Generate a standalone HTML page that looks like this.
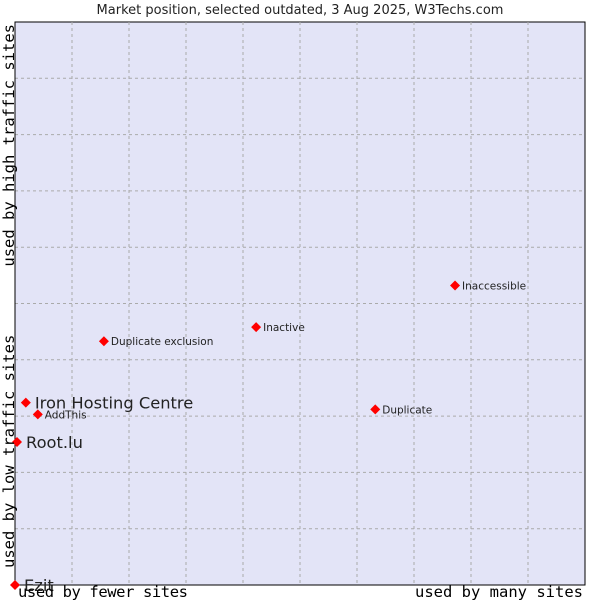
<!DOCTYPE html>
<html><head><meta charset="utf-8"><style>
html,body{margin:0;padding:0;background:#fff;}
svg{display:block;font-family:"DejaVu Sans","Liberation Sans",sans-serif;}
</style></head><body>
<svg id="chart" width="600" height="600">
<text x="300" y="14" text-anchor="middle" font-size="13" fill="#222">Market position, selected outdated, 3 Aug 2025, W3Techs.com</text>
<rect x="15" y="22" width="570" height="563" fill="#e3e4f7" stroke="#000" stroke-width="1"/>
<g id="grid"></g>
<line x1="15" y1="22" x2="15" y2="585" stroke="#000"/>
<line x1="15" y1="585" x2="585" y2="585" stroke="#000"/>
<g id="points"></g>
<text x="18" y="597" textLength="170" font-family="'DejaVu Sans Mono','Liberation Mono',monospace" font-size="15.5" fill="#000">used by fewer sites</text>
<text x="583" y="597" text-anchor="end" font-family="'DejaVu Sans Mono','Liberation Mono',monospace" font-size="15.5" fill="#000">used by many sites</text>
<text transform="translate(14,568) rotate(-90)" font-family="'DejaVu Sans Mono','Liberation Mono',monospace" font-size="15.5" fill="#000">used by low traffic sites</text>
<text transform="translate(14,24) rotate(-90)" text-anchor="end" font-family="'DejaVu Sans Mono','Liberation Mono',monospace" font-size="15.5" fill="#000">used by high traffic sites</text>
</svg>
<script>
const names = ["Ezit","Root.lu","Iron Hosting Centre","AddThis","Duplicate exclusion","Inactive","Duplicate","Inaccessible"];
const xValues = [0,0.35,1.9,4.0,15.6,42.3,63.2,77.2];
const yValues = [0,25.4,32.4,30.3,43.3,45.8,31.2,53.2];
const bigLabel = [true,true,true,false,false,false,false,false];
const L=15,T=22,W=570,H=563;
const xs=v=>L+v/100*W, ys=v=>T+H-v/100*H;
const NS="http://www.w3.org/2000/svg";
const grid=document.getElementById('grid');
for(let i=1;i<10;i++){
  const l=document.createElementNS(NS,'line');
  l.setAttribute('x1',xs(i*10));l.setAttribute('x2',xs(i*10));l.setAttribute('y1',T);l.setAttribute('y2',T+H);
  l.setAttribute('stroke','#aaa');l.setAttribute('stroke-dasharray','3,3');
  
  
  grid.appendChild(l);
  const h=document.createElementNS(NS,'line');
  h.setAttribute('x1',L);h.setAttribute('x2',L+W);h.setAttribute('y1',ys(i*10));h.setAttribute('y2',ys(i*10));
  h.setAttribute('stroke','#aaa');h.setAttribute('stroke-dasharray','3,3');
  
  
  grid.appendChild(h);
}
const pts=document.getElementById('points');
names.forEach((n,i)=>{
  const x=xs(xValues[i]),y=ys(yValues[i]);
  const p=document.createElementNS(NS,'polygon');
  p.setAttribute('points',`${x},${y-5} ${x+5},${y} ${x},${y+5} ${x-5},${y}`);
  p.setAttribute('fill','#f00');
  
  
  pts.appendChild(p);
  const t=document.createElementNS(NS,'text');
  t.setAttribute('x',x+(bigLabel[i]?9:7));
  t.setAttribute('y',y+(bigLabel[i]?6:4));
  t.setAttribute('font-size',bigLabel[i]?'16.3':'10.5');
  t.setAttribute('fill','#222');
  t.textContent=n;
  
  
  pts.appendChild(t);
});
</script>
</body></html>
